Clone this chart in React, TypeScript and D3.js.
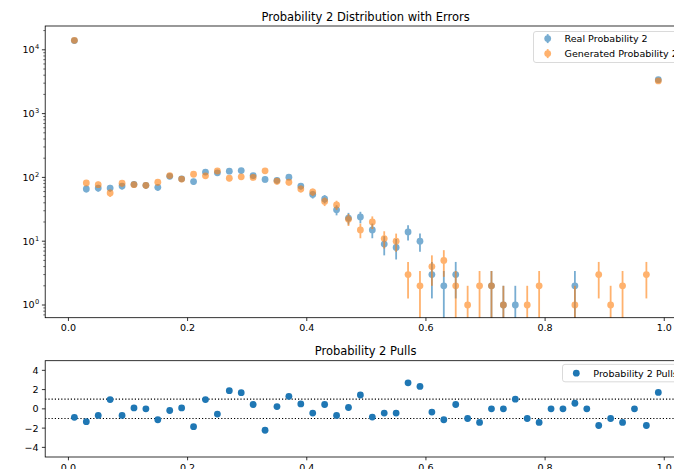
import React from "react";
import * as d3 from "d3";

// Bin centres of the probability histogram
const binCenters = [
  0.01, 0.03, 0.05, 0.07, 0.09, 0.11, 0.13, 0.15, 0.17, 0.19,
  0.21, 0.23, 0.25, 0.27, 0.29, 0.31, 0.33, 0.35, 0.37, 0.39,
  0.41, 0.43, 0.45, 0.47, 0.49, 0.51, 0.53, 0.55, 0.57, 0.59,
  0.61, 0.63, 0.65, 0.67, 0.69, 0.71, 0.73, 0.75, 0.77, 0.79,
  0.81, 0.83, 0.85, 0.87, 0.89, 0.91, 0.93, 0.95, 0.97, 0.99,
];

// Counts per bin (real sample)
const realCounts = [
  13930, 66, 68, 68, 73, 78, 75, 70, 104, 95,
  86, 121, 118, 125, 128, 107, 93, 90, 101, 73,
  54, 46, 31, 23, 24, 15, 9, 8, 14, 10,
  3, 2, 3, 0, 0, 2, 1, 1, 0, 0,
  0, 0, 2, 0, 0, 0, 0, 0, 0, 3390,
];

// Counts per bin (generated sample)
const generatedCounts = [
  14077, 82, 77, 57, 81, 77, 75, 84, 107, 94,
  112, 106, 126, 97, 102, 100, 127, 87, 84, 66,
  59, 42, 37, 22, 15, 20, 11, 10, 3, 2,
  4, 5, 2, 1, 2, 2, 1, 0, 1, 2,
  0, 0, 1, 0, 3, 1, 2, 0, 3, 3250,
];

// Pull per bin
const pulls = [
  -0.88, -1.33, -0.68, 0.96, -0.68, 0.10, 0.0, -1.13, -0.17, 0.10,
  -1.85, 0.96, -0.54, 1.89, 1.68, 0.45, -2.22, 0.24, 1.30, 0.51,
  -0.44, 0.45, -0.68, 0.14, 1.44, -0.85, -0.44, -0.44, 2.70, 2.33,
  -0.34, -1.13, 0.45, -1.0, -1.41, 0.0, 0.0, 1.0, -1.0, -1.41,
  0.0, 0.0, 0.58, 0.0, -1.73, -1.0, -1.41, 0.0, -1.73, 1.71,
];

const xTicks = [0.0, 0.2, 0.4, 0.6, 0.8, 1.0];
const logMajor = [0, 1, 2, 3, 4];
const pullTicks = [-4, -2, 0, 2, 4];
const pullBands = [-1, 1];

const W = 674;
const H = 469;
const FONT = "DejaVu Sans, sans-serif";
const BLUE = "#1f77b4";
const ORANGE = "#ff7f0e";
const TICK_FS = 9.55;
const TITLE_FS = 11.5;

const left = 45.2;
const right = 687.5;
const top1 = 26;
const bot1 = 317.7;
const top2 = 360.7;
const bot2 = 457;

export default function App() {
  const x = d3.scaleLinear().domain([-0.039, 1.039]).range([left, right]);
  const y1 = d3
    .scaleLog()
    .domain([Math.pow(10, -0.199), Math.pow(10, 4.373)])
    .range([bot1, top1]);
  const y2 = d3.scaleLinear().domain([-5, 5]).range([bot2, top2]);

  const [yMin, yMax] = y1.domain();
  const minorTicks: number[] = [];
  for (let d = -1; d <= 4; d++) {
    for (let k = 2; k <= 9; k++) {
      const v = k * Math.pow(10, d);
      if (v >= yMin && v <= yMax) minorTicks.push(v);
    }
  }

  const series = [
    { name: "Real Probability 2", counts: realCounts, color: BLUE },
    { name: "Generated Probability 2", counts: generatedCounts, color: ORANGE },
  ];

  const xAxis = (yBase: number) =>
    xTicks.map((t) => (
      <g key={t}>
        <line x1={x(t)} x2={x(t)} y1={yBase} y2={yBase + 3.3} stroke="#000" strokeWidth={0.8} />
        <text x={x(t)} y={yBase + 6.5} dy="0.75em" textAnchor="middle" fontSize={TICK_FS} fontFamily={FONT}>
          {t.toFixed(1)}
        </text>
      </g>
    ));

  return (
    <svg width={W} height={H} style={{ position: "absolute", left: 0, top: 0 }} fontFamily={FONT}>
      <defs>
        <clipPath id="clipTop">
          <rect x={left} y={top1} width={right - left} height={bot1 - top1} />
        </clipPath>
        <clipPath id="clipBot">
          <rect x={left} y={top2} width={right - left} height={bot2 - top2} />
        </clipPath>
      </defs>
      <rect width={W} height={H} fill="#fff" />

      {/* Distribution panel */}
      <text x={(left + 674) / 2 + 6} y={top1 - 5.5} textAnchor="middle" fontSize={TITLE_FS}>
        Probability 2 Distribution with Errors
      </text>
      <g clipPath="url(#clipTop)">
        {series.map((s) => (
          <g key={s.name} opacity={0.6}>
            {s.counts.map((c, i) => {
              if (c <= 0) return null;
              const err = Math.sqrt(c);
              const lo = c - err > yMin ? y1(c - err) : bot1 + 2;
              const hi = y1(c + err);
              return (
                <g key={i}>
                  <line x1={x(binCenters[i])} x2={x(binCenters[i])} y1={lo} y2={hi} stroke={s.color} strokeWidth={1.8} />
                  <circle cx={x(binCenters[i])} cy={y1(c)} r={3.4} fill={s.color} />
                </g>
              );
            })}
          </g>
        ))}
      </g>
      <rect x={left} y={top1} width={right - left} height={bot1 - top1} fill="none" stroke="#000" strokeWidth={0.8} />
      {xAxis(bot1)}
      {minorTicks.map((v) => (
        <line key={v} x1={left - 1.9} x2={left} y1={y1(v)} y2={y1(v)} stroke="#000" strokeWidth={0.6} />
      ))}
      {logMajor.map((p) => (
        <g key={p}>
          <line x1={left - 3.3} x2={left} y1={y1(Math.pow(10, p))} y2={y1(Math.pow(10, p))} stroke="#000" strokeWidth={0.8} />
          <text x={left - 10.5} y={y1(Math.pow(10, p)) + 3.4} textAnchor="end" fontSize={TICK_FS}>
            10
          </text>
          <text x={left - 10.2} y={y1(Math.pow(10, p)) - 0.6} textAnchor="start" fontSize={TICK_FS * 0.7}>
            {p}
          </text>
        </g>
      ))}

      {/* Legend for the distribution panel */}
      <rect x={533.5} y={31.5} width={170} height={31} rx={2.5} fill="#fff" fillOpacity={0.8} stroke="#d0d0d0" strokeWidth={0.8} />
      {series.map((s, i) => {
        const ly = 38.6 + i * 15;
        return (
          <g key={s.name}>
            <g opacity={0.6}>
              <line x1={547.7} x2={547.7} y1={ly - 4.5} y2={ly + 4.5} stroke={s.color} strokeWidth={1.8} />
              <circle cx={547.7} cy={ly} r={3.4} fill={s.color} />
            </g>
            <text x={564.5} y={ly + 3.4} fontSize={TICK_FS}>
              {s.name}
            </text>
          </g>
        );
      })}

      {/* Pulls panel */}
      <text x={(left + 674) / 2 + 6} y={top2 - 5.5} textAnchor="middle" fontSize={TITLE_FS}>
        Probability 2 Pulls
      </text>
      <g clipPath="url(#clipBot)">
        {pullBands.map((b) => (
          <line key={b} x1={left} x2={right} y1={y2(b)} y2={y2(b)} stroke="#000" strokeWidth={1.2} strokeDasharray="1.2,2" />
        ))}
        {pulls.map((p, i) => (
          <circle key={i} cx={x(binCenters[i])} cy={y2(p)} r={3.4} fill={BLUE} />
        ))}
      </g>
      <rect x={left} y={top2} width={right - left} height={bot2 - top2} fill="none" stroke="#000" strokeWidth={0.8} />
      {xAxis(bot2)}
      {pullTicks.map((t) => (
        <g key={t}>
          <line x1={left - 3.3} x2={left} y1={y2(t)} y2={y2(t)} stroke="#000" strokeWidth={0.8} />
          <text x={left - 6.5} y={y2(t) + 3.4} textAnchor="end" fontSize={TICK_FS}>
            {t < 0 ? `\u2212${Math.abs(t)}` : `${t}`}
          </text>
        </g>
      ))}

      {/* Legend for the pulls panel */}
      <rect x={562.5} y={364.4} width={140} height={17.4} rx={2.5} fill="#fff" fillOpacity={0.8} stroke="#d0d0d0" strokeWidth={0.8} />
      <circle cx={576.3} cy={373.2} r={3.4} fill={BLUE} />
      <text x={593.3} y={376.6} fontSize={TICK_FS}>
        Probability 2 Pulls
      </text>
    </svg>
  );
}
